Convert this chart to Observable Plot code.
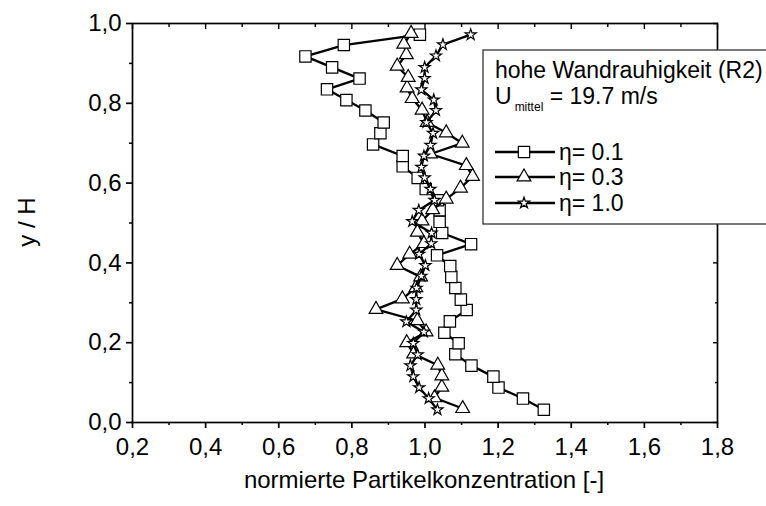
<!DOCTYPE html>
<html>
<head>
<meta charset="utf-8">
<script src="https://cdn.jsdelivr.net/npm/d3@7"></script>
<script src="https://cdn.jsdelivr.net/npm/@observablehq/plot@0.6"></script>
<style>
  html, body { margin: 0; padding: 0; background: #fff; }
  svg { display: block; overflow: hidden; }
</style>
</head>
<body>
<div id="chart"></div>
<script>
// ---- data ----
const xTicks = [0.2, 0.4, 0.6, 0.8, 1.0, 1.2, 1.4, 1.6, 1.8];
const xMinor = [0.3, 0.5, 0.7, 0.9, 1.1, 1.3, 1.5, 1.7];
const yTicks = [0.0, 0.2, 0.4, 0.6, 0.8, 1.0];
const yMinor = [0.1, 0.3, 0.5, 0.7, 0.9];

const seriesNames = ["η= 0.1", "η= 0.3", "η= 1.0"];

// η = 0.1 (squares)
const sqY = [0.032,0.060,0.0875,0.115,0.1425,0.171,0.1985,0.225,0.2535,0.282,0.308,0.337,0.365,0.392,0.419,0.447,0.475,0.503,0.532,0.557,0.585,0.613,0.642,0.668,0.697,0.725,0.752,0.782,0.808,0.835,0.862,0.890,0.9175,0.946,0.972];
const sqX = [1.325,1.268,1.201,1.187,1.127,1.083,1.092,1.053,1.068,1.114,1.098,1.083,1.072,1.069,1.033,1.126,1.047,1.040,1.040,1.035,1.002,0.980,0.939,0.939,0.858,0.878,0.887,0.837,0.785,0.732,0.821,0.746,0.673,0.778,0.986];

// η = 0.3 (triangles)
const triY = [0.035,0.062,0.0885,0.117,0.1435,0.172,0.200,0.227,0.255,0.2835,0.310,0.338,0.365,0.3935,0.422,0.4485,0.477,0.505,0.5335,0.560,0.5875,0.617,0.644,0.673,0.700,0.726,0.752,0.783,0.812,0.8385,0.865,0.893,0.922,0.948,0.975];
const triX = [1.103,1.026,1.046,1.046,1.035,0.969,0.950,1.003,0.979,0.866,0.938,0.975,0.988,0.924,0.958,0.997,0.979,0.992,1.021,1.058,1.097,1.130,1.113,1.015,1.102,1.058,1.006,0.992,0.965,0.951,0.954,0.924,0.949,0.942,0.962];

// η = 1.0 (stars)
const starY = [0.032,0.060,0.0875,0.115,0.1425,0.170,0.1985,0.227,0.2525,0.282,0.3085,0.337,0.367,0.3935,0.422,0.4485,0.475,0.504,0.532,0.557,0.585,0.6135,0.640,0.668,0.695,0.725,0.752,0.782,0.8085,0.834,0.8625,0.890,0.919,0.947,0.972];
const starX = [1.034,1.010,0.984,0.968,0.960,0.980,0.968,0.997,0.949,0.976,0.976,0.977,0.990,1.001,0.984,1.017,1.018,0.965,0.983,1.026,1.015,0.999,0.990,0.997,1.015,1.022,1.004,1.030,1.024,0.990,0.999,0.999,1.030,1.049,1.125];

const legendTitle = "hohe Wandrauhigkeit (R2)";
const legendSpeedMain = "U";
const legendSpeedSub = "mittel";
const legendSpeedRest = " = 19.7 m/s";
const xLabel = "normierte Partikelkonzentration [-]";
const yLabel = "y / H";

// ---- build ----
const toRows = (xs, ys) => xs.map((x, i) => ({x, y: ys[i]}));
const sq = toRows(sqX, sqY);
const tri = toRows(triX, triY);
const star = toRows(starX, starY);

const fmt = d => d.toFixed(1).replace(".", ",");
const blank = () => "";
const FONT = "'Liberation Sans', Arial, sans-serif";
const R = {square: 6.4, triangle: 5.1, star: 3.5};

function seriesMarks(data, symbol) {
  return [
    Plot.line(data, {x: "x", y: "y", stroke: "black", strokeWidth: 2.3, curve: "linear"}),
    Plot.dot(data, {x: "x", y: "y", symbol, r: R[symbol], fill: "white", stroke: "black", strokeWidth: 1.2})
  ];
}

const chart = Plot.plot({
  width: 766,
  height: 506,
  marginLeft: 132,
  marginRight: 49,
  marginTop: 23,
  marginBottom: 84,
  style: {fontFamily: FONT, fontSize: "24px", color: "black", background: "white"},
  x: {domain: [0.2, 1.8]},
  y: {domain: [0, 1]},
  marks: [
    ...seriesMarks(sq, "square"),
    ...seriesMarks(tri, "triangle"),
    ...seriesMarks(star, "star"),
    Plot.frame({stroke: "black", strokeWidth: 1.7}),
    Plot.axisX(xTicks, {anchor: "bottom", tickSize: 6, tickPadding: 9, tickFormat: fmt, label: null, fontSize: 24, strokeWidth: 1.7}),
    Plot.axisX(xMinor, {anchor: "bottom", tickSize: 3, tickFormat: blank, label: null, strokeWidth: 1.5}),
    Plot.axisX(xTicks, {anchor: "top", tickSize: -5, tickFormat: blank, label: null, strokeWidth: 1.4}),
    Plot.axisX(xMinor, {anchor: "top", tickSize: -3, tickFormat: blank, label: null, strokeWidth: 1.4}),
    Plot.axisY(yTicks, {anchor: "left", tickSize: 6, tickPadding: 5, tickFormat: fmt, label: null, fontSize: 24, strokeWidth: 1.7}),
    Plot.axisY(yMinor, {anchor: "left", tickSize: 3, tickFormat: blank, label: null, strokeWidth: 1.5}),
    Plot.axisY(yTicks, {anchor: "right", tickSize: -5, tickFormat: blank, label: null, strokeWidth: 1.4}),
    Plot.axisY(yMinor, {anchor: "right", tickSize: -3, tickFormat: blank, label: null, strokeWidth: 1.4})
  ]
});

document.getElementById("chart").appendChild(chart);

// ---- axis titles and legend ----
const svg = d3.select(chart);

svg.append("text")
  .attr("x", 424).attr("y", 488)
  .attr("text-anchor", "middle")
  .attr("font-family", FONT).attr("font-size", 24)
  .attr("fill", "black")
  .text(xLabel);

svg.append("text")
  .attr("transform", "translate(35,222) rotate(-90)")
  .attr("text-anchor", "middle")
  .attr("font-family", FONT).attr("font-size", 24)
  .attr("fill", "black")
  .text(yLabel);

const lg = svg.append("g").attr("text-anchor", "start");
lg.append("rect")
  .attr("x", 483).attr("y", 50).attr("width", 320).attr("height", 174)
  .attr("fill", "white").attr("stroke", "#333").attr("stroke-width", 1.3);

lg.append("text")
  .attr("x", 495).attr("y", 78)
  .attr("text-anchor", "start")
  .attr("font-family", FONT).attr("font-size", 23).attr("fill", "black")
  .text(legendTitle);

const sp = lg.append("text")
  .attr("x", 495).attr("y", 104)
  .attr("text-anchor", "start")
  .attr("font-family", FONT).attr("font-size", 23).attr("fill", "black");
sp.append("tspan").text(legendSpeedMain);
sp.append("tspan").attr("font-size", 12).attr("dy", 7).attr("dx", 3).text(legendSpeedSub);
sp.append("tspan").attr("dy", -7).text(legendSpeedRest);

const symbols = [d3.symbolSquare, d3.symbolTriangle, d3.symbolStar];
const symKeys = ["square", "triangle", "star"];
const rowY = [152, 177, 203];
seriesNames.forEach((name, i) => {
  const yy = rowY[i];
  lg.append("line")
    .attr("x1", 495).attr("x2", 555).attr("y1", yy).attr("y2", yy)
    .attr("stroke", "black").attr("stroke-width", 2.3);
  const r = R[symKeys[i]];
  lg.append("path")
    .attr("transform", `translate(524,${yy})`)
    .attr("d", d3.symbol(symbols[i], Math.PI * r * r)())
    .attr("fill", "white").attr("stroke", "black").attr("stroke-width", 1.2);
  lg.append("text")
    .attr("x", 559).attr("y", yy + 8)
    .attr("text-anchor", "start")
    .attr("font-family", FONT).attr("font-size", 23).attr("fill", "black")
    .text(name);
});
</script>
</body>
</html>
